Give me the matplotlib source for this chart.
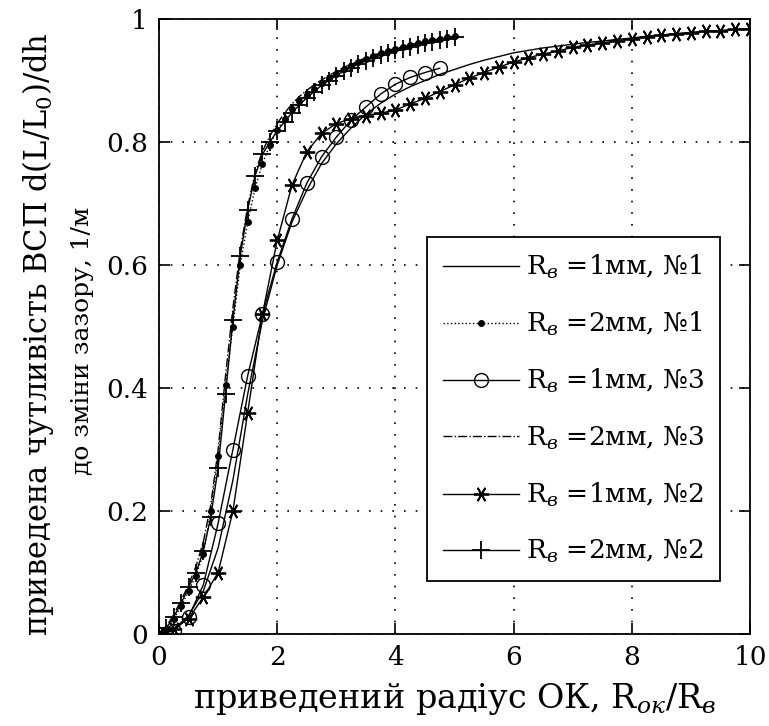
import matplotlib
matplotlib.use("Agg")
import matplotlib.pyplot as plt

plt.rcParams["font.family"] = ["DejaVu Serif"]
plt.rcParams["mathtext.fontset"] = "dejavuserif"

# ---- data ----
# R_в = 2 mm curves (x = R_ок/R_в from 0 to 5)
x_2mm = [0.0, 0.125, 0.25, 0.375, 0.5, 0.625, 0.75, 0.875, 1.0, 1.125,
         1.25, 1.375, 1.5, 1.625, 1.75, 1.875, 2.0, 2.125, 2.25, 2.375,
         2.5, 2.625, 2.75, 2.875, 3.0, 3.125, 3.25, 3.375, 3.5, 3.625,
         3.75, 3.875, 4.0, 4.125, 4.25, 4.375, 4.5, 4.625, 4.75, 4.875, 5.0]
y_2mm_n1 = [0.0, 0.008, 0.025, 0.045, 0.07, 0.095, 0.13, 0.2, 0.29, 0.405,
            0.5, 0.6, 0.67, 0.725, 0.765, 0.795, 0.82, 0.838, 0.853, 0.866,
            0.877, 0.887, 0.896, 0.904, 0.911, 0.918, 0.924, 0.93, 0.935, 0.94,
            0.944, 0.948, 0.952, 0.955, 0.958, 0.961, 0.964, 0.966, 0.968, 0.97, 0.972]
y_2mm_n3 = [0.0, 0.012, 0.032, 0.055, 0.08, 0.11, 0.15, 0.21, 0.3, 0.42,
            0.53, 0.625, 0.695, 0.75, 0.785, 0.81, 0.83, 0.847, 0.862, 0.874,
            0.884, 0.893, 0.901, 0.908, 0.915, 0.921, 0.927, 0.932, 0.937, 0.941,
            0.945, 0.949, 0.952, 0.955, 0.958, 0.961, 0.963, 0.965, 0.967, 0.969, 0.971]
y_2mm_n2 = [0.0, 0.01, 0.028, 0.05, 0.076, 0.1, 0.135, 0.19, 0.27, 0.39,
            0.51, 0.615, 0.69, 0.745, 0.78, 0.8, 0.818, 0.833, 0.848, 0.86,
            0.872, 0.882, 0.892, 0.9, 0.908, 0.915, 0.921, 0.927, 0.932, 0.937,
            0.941, 0.945, 0.949, 0.952, 0.955, 0.958, 0.961, 0.963, 0.966, 0.968, 0.97]

# R_в = 1 mm curves (x from 0 to 10)
x_1mm = [0.0, 0.25, 0.5, 0.75, 1.0, 1.25, 1.5, 1.75, 2.0, 2.25,
         2.5, 2.75, 3.0, 3.25, 3.5, 3.75, 4.0, 4.25, 4.5, 4.75,
         5.0, 5.25, 5.5, 5.75, 6.0, 6.25, 6.5, 6.75, 7.0, 7.25,
         7.5, 7.75, 8.0, 8.25, 8.5, 8.75, 9.0, 9.25, 9.5, 9.75, 10.0]
y_1mm_n1 = [0.0, 0.008, 0.03, 0.07, 0.14, 0.25, 0.39, 0.51, 0.6, 0.67,
            0.722, 0.765, 0.797, 0.823, 0.845, 0.863, 0.878, 0.89, 0.9, 0.91,
            0.918, 0.926, 0.933, 0.939, 0.945, 0.949, 0.953, 0.956, 0.959, 0.962,
            0.964, 0.967, 0.969, 0.972, 0.974, 0.976, 0.978, 0.98, 0.981, 0.983, 0.984]
y_1mm_n2 = [0.0, 0.008, 0.025, 0.06, 0.1, 0.2, 0.36, 0.52, 0.64, 0.73,
            0.784, 0.814, 0.83, 0.838, 0.843, 0.847, 0.852, 0.862, 0.871, 0.882,
            0.893, 0.904, 0.913, 0.922, 0.93, 0.937, 0.943, 0.948, 0.954, 0.958,
            0.961, 0.965, 0.968, 0.971, 0.974, 0.976, 0.978, 0.98, 0.981, 0.983, 0.984]
x_1mm_n3 = x_1mm[:20]
y_1mm_n3 = [0.0, 0.005, 0.028, 0.08, 0.18, 0.3, 0.42, 0.52, 0.605, 0.675,
            0.733, 0.776, 0.808, 0.836, 0.857, 0.878, 0.894, 0.905, 0.913, 0.92]

labels = ["R$_{\\mathit{в}}$ =1мм, №1", "R$_{\\mathit{в}}$ =2мм, №1",
          "R$_{\\mathit{в}}$ =1мм, №3", "R$_{\\mathit{в}}$ =2мм, №3",
          "R$_{\\mathit{в}}$ =1мм, №2", "R$_{\\mathit{в}}$ =2мм, №2"]

fig = plt.figure(figsize=(7.69, 7.26), dpi=100)
ax = fig.add_axes([0.2068, 0.1267, 0.9753 - 0.2068, 0.9738 - 0.1267])

asterisk = (6, 2, 90)
ax.plot(x_1mm, y_1mm_n1, "-", color="k", lw=1.0, label=labels[0])
ax.plot(x_2mm, y_2mm_n1, ":", color="k", lw=1.0, marker=".", ms=8, label=labels[1])
ax.plot(x_1mm_n3, y_1mm_n3, "-", color="k", lw=1.0, marker="o", ms=10,
        mfc="none", mew=1.0, label=labels[2])
ax.plot(x_2mm, y_2mm_n3, "-.", color="k", lw=1.0, label=labels[3])
ax.plot(x_1mm, y_1mm_n2, "-", color="k", lw=1.0, marker=asterisk, ms=11,
        mew=1.3, label=labels[4])
ax.plot(x_2mm, y_2mm_n2, "-", color="k", lw=1.0, marker="+", ms=13,
        mew=1.3, label=labels[5])

ax.set_xlim(0, 10)
ax.set_ylim(0, 1)
ax.set_xticks([0, 2, 4, 6, 8, 10])
ax.set_yticks([0, 0.2, 0.4, 0.6, 0.8, 1])
ax.set_yticklabels(["0", "0.2", "0.4", "0.6", "0.8", "1"])
ax.tick_params(direction="in", length=8, width=1.2, top=True, right=True,
               labelsize=19, pad=8)
ax.grid(True, color="k", linestyle=(0, (1, 6)), linewidth=1.2)
for sp in ax.spines.values():
    sp.set_linewidth(1.3)

ax.set_xlabel("приведений радіус ОК, R$_{\\mathit{ок}}$/R$_{\\mathit{в}}$",
              fontsize=24, labelpad=8)
fig.text(0.05, 0.54, "приведена чутливість ВСП d(L/L$_0$)/dh",
         rotation=90, ha="center", va="center", fontsize=22)
fig.text(0.107, 0.53, "до зміни зазору, 1/м",
         rotation=90, ha="center", va="center", fontsize=18)

leg = ax.legend(loc="upper left", bbox_to_anchor=(427 / 769, 1 - 237 / 726),
                bbox_transform=fig.transFigure, fontsize=19, frameon=True,
                fancybox=False, framealpha=1, edgecolor="k",
                handlelength=2.9, handletextpad=0.25, labelspacing=1.1,
                borderpad=0.6, borderaxespad=0)
leg.get_frame().set_linewidth(1.3)

fig.savefig("out.png", dpi=100)
